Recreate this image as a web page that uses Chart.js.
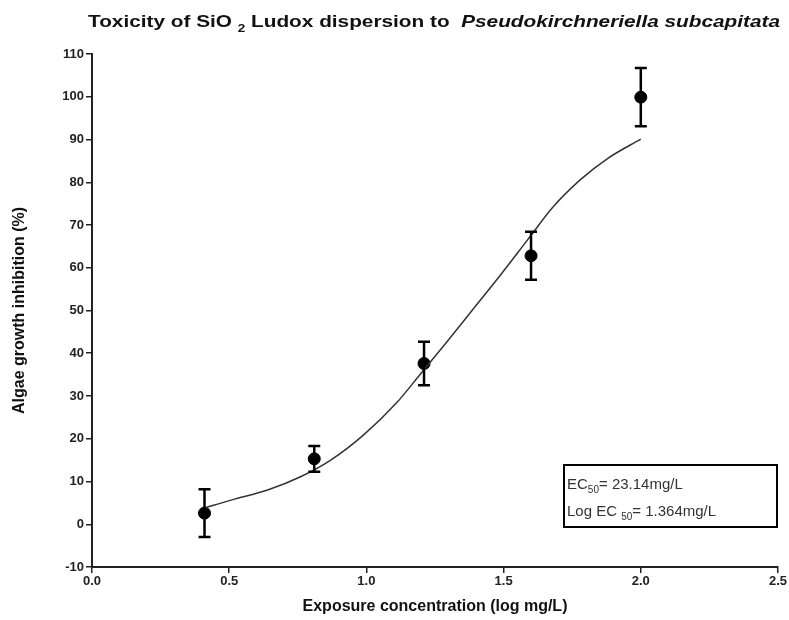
<!DOCTYPE html>
<html>
<head>
<meta charset="utf-8">
<script src="https://cdn.jsdelivr.net/npm/chart.js@4"></script>
<style>
  body { margin: 0; background: #fff; }
  #wrap { width: 789px; height: 620px; position: relative; }
</style>
</head>
<body>
<div id="wrap"><canvas id="toxChart" width="789" height="620"></canvas></div>
<script>
// measured points (log mg/L vs % inhibition)
const logConc = [0.41, 0.81, 1.21, 1.60, 2.00]
const inhibition = [2.6, 15.3, 37.6, 62.8, 99.9]
const errors = [5.6, 3.0, 5.1, 5.6, 6.8]

// fitted curve
const fitX = [0.41, 0.51, 0.64, 0.76, 0.87, 0.99, 1.11, 1.20, 1.29, 1.39, 1.48, 1.55, 1.60, 1.68, 1.78, 1.88, 2.00]
const fitY = [3.8, 5.7, 8.0, 11.1, 15.0, 20.9, 28.4, 35.4, 42.4, 50.4, 57.6, 63.4, 67.6, 74.2, 80.6, 85.6, 90.1]

const xTicks = [0, 0.5, 1, 1.5, 2, 2.5]
const yTicks = [-10, 0, 10, 20, 30, 40, 50, 60, 70, 80, 90, 100, 110]

const narrow = "'Liberation Sans Narrow', 'Liberation Sans', Arial, sans-serif"
const plain = "'Liberation Sans', Arial, sans-serif"

Chart.defaults.color = '#111'

// title with subscript + italic species name, stretched to the original width
const titlePlugin = {
  id: 'mixedTitle',
  afterDraw(chart) {
    const ctx = chart.ctx
    const parts = [
      { t: 'Toxicity of SiO ', f: 'bold 17px ' + narrow, dy: 0 },
      { t: '2', f: 'bold 11px ' + narrow, dy: 5 },
      { t: ' Ludox dispersion to  ', f: 'bold 17px ' + narrow, dy: 0 },
      { t: 'Pseudokirchneriella subcapitata', f: 'italic bold 17px ' + narrow, dy: 0 },
    ]
    ctx.save()
    let total = 0
    parts.forEach(p => { ctx.font = p.f; total += ctx.measureText(p.t).width })
    ctx.fillStyle = '#111'
    ctx.textBaseline = 'alphabetic'
    ctx.translate(88, 27)
    ctx.scale(692 / total, 1)
    let x = 0
    parts.forEach(p => {
      ctx.font = p.f
      ctx.fillText(p.t, x, p.dy)
      x += ctx.measureText(p.t).width
    })
    ctx.restore()
  }
}

// vertical error bars with caps
const errorBarPlugin = {
  id: 'errorBars',
  afterDatasetsDraw(chart) {
    const ctx = chart.ctx
    const xs = chart.scales.x
    const ys = chart.scales.y
    ctx.save()
    ctx.strokeStyle = '#000'
    ctx.lineWidth = 2.5
    logConc.forEach((c, i) => {
      const px = xs.getPixelForValue(c)
      const top = ys.getPixelForValue(inhibition[i] + errors[i])
      const bot = ys.getPixelForValue(inhibition[i] - errors[i])
      ctx.beginPath()
      ctx.moveTo(px, top); ctx.lineTo(px, bot)
      ctx.moveTo(px - 6, top); ctx.lineTo(px + 6, top)
      ctx.moveTo(px - 6, bot); ctx.lineTo(px + 6, bot)
      ctx.stroke()
    })
    ctx.restore()
  }
}

// EC50 box
const ecBoxPlugin = {
  id: 'ecBox',
  afterDraw(chart) {
    const ctx = chart.ctx
    ctx.save()
    ctx.strokeStyle = '#000'
    ctx.lineWidth = 2
    ctx.strokeRect(564, 465, 213, 62)
    ctx.fillStyle = '#333'
    ctx.textBaseline = 'alphabetic'
    const line = (segs, x, y) => {
      segs.forEach(s => {
        ctx.font = s.sub ? '10px ' + plain : '15px ' + plain
        ctx.fillText(s.t, x, y + (s.sub ? 4 : 0))
        x += ctx.measureText(s.t).width
      })
    }
    line([{ t: 'EC' }, { t: '50', sub: true }, { t: '= 23.14mg/L' }], 567, 489)
    line([{ t: 'Log EC ' }, { t: '50', sub: true }, { t: '= 1.364mg/L' }], 567, 516)
    ctx.restore()
  }
}

const data = {
  datasets: [
    {
      label: 'fit',
      data: fitX.map((x, i) => ({ x: x, y: fitY[i] })),
      showLine: true,
      borderColor: '#333',
      borderWidth: 1.5,
      pointRadius: 0,
      cubicInterpolationMode: 'monotone',
      fill: false,
    },
    {
      label: 'measured',
      data: logConc.map((x, i) => ({ x: x, y: inhibition[i] })),
      showLine: false,
      pointRadius: 6,
      pointBackgroundColor: '#000',
      pointBorderColor: '#000',
    },
  ]
}

const axisTick = { family: narrow, size: 13, weight: 'bold' }

const config = {
  type: 'scatter',
  data: data,
  options: {
    responsive: false,
    animation: false,
    layout: { padding: { top: 54, right: 11, left: 0, bottom: 0 } },
    plugins: {
      legend: { display: false },
      tooltip: { enabled: false },
    },
    scales: {
      x: {
        type: 'linear',
        min: 0,
        max: 2.5,
        afterFit: s => { s.height = 53 },
        afterBuildTicks: s => { s.ticks = xTicks.map(v => ({ value: v })) },
        ticks: { font: axisTick, color: '#222', padding: 1, callback: v => v.toFixed(1) },
        grid: { drawOnChartArea: false, tickLength: 6, color: '#222', lineWidth: 1.5 },
        border: { color: '#222', width: 2 },
        title: {
          display: true,
          text: 'Exposure concentration (log mg/L)',
          font: { family: narrow, size: 16, weight: 'bold' },
          color: '#111',
          padding: { bottom: 4 },
        },
      },
      y: {
        type: 'linear',
        min: -10,
        max: 110,
        afterFit: s => { s.width = 92 },
        afterBuildTicks: s => { s.ticks = yTicks.map(v => ({ value: v })) },
        ticks: { font: axisTick, color: '#222', padding: 2 },
        grid: { drawOnChartArea: false, tickLength: 6, color: '#222', lineWidth: 1.5 },
        border: { color: '#222', width: 2 },
        title: {
          display: true,
          text: 'Algae growth inhibition (%)',
          font: { family: narrow, size: 16, weight: 'bold' },
          color: '#111',
          padding: { top: 10 },
        },
      },
    },
  },
  plugins: [titlePlugin, errorBarPlugin, ecBoxPlugin],
}

const toxChart = new Chart(document.getElementById('toxChart'), config)
</script>
</body>
</html>
